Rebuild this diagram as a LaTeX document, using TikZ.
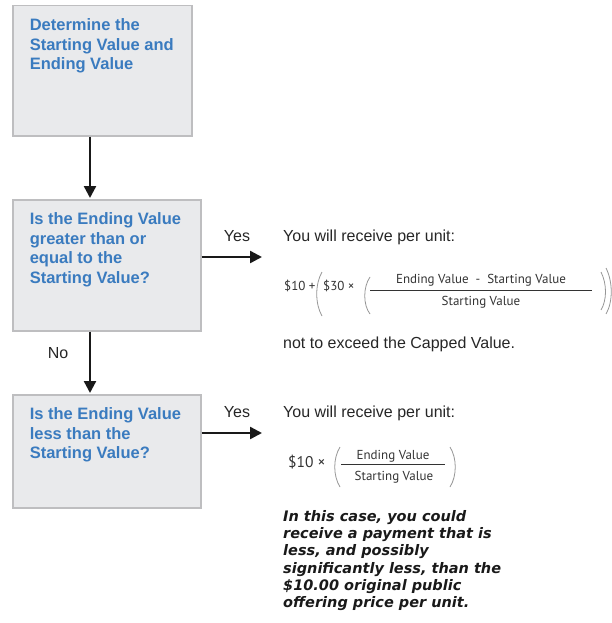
\documentclass[tikz,border=0pt]{standalone}
\usepackage{fontspec}
\setmainfont{Liberation Sans}
\newfontfamily\ptsans{PT Sans}
\newfontfamily\dejavu{DejaVu Sans}
\usetikzlibrary{arrows.meta}
\definecolor{boxfill}{RGB}{233,234,236}
\definecolor{boxline}{RGB}{190,190,192}
\definecolor{qblue}{RGB}{58,123,191}
\definecolor{parengray}{RGB}{150,150,150}
\tikzset{
	qbox/.style={draw=boxline, fill=boxfill, line width=1.5pt, anchor=north west, inner xsep=17pt, inner ysep=13pt, text=qblue, font=\fontsize{16.5}{19.5}\selectfont\bfseries},
	arr/.style={line width=2.4pt, draw=black!90, -{Triangle[length=12pt,width=12pt]}, shorten >=1pt},
	lbl/.style={font=\fontsize{16}{19}\selectfont, inner sep=0pt, text=black!85},
	frm/.style={font=\ptsans\fontsize{13}{15}\selectfont, inner sep=0pt, text=black!80},
	paren/.style={draw=parengray, line width=0.8pt},
}
\newcommand{\qtext}[3]{\parbox[t][#1][t]{#2}{\raggedright #3}}
\begin{document}
\begin{tikzpicture}[x=1pt,y=-1pt]
		\useasboundingbox (0,0) rectangle (611,623);
		\node[qbox] (start) at (12,5) {\qtext{104pt}{145pt}{Determine the\\Starting Value and\\Ending Value}};
		\node[qbox] (qgreater) at (12,199) {\qtext{105pt}{154pt}{Is the Ending Value\\greater than or\\equal to the\\Starting Value?}};
		\node[qbox] (qless) at (12,394) {\qtext{87pt}{154pt}{Is the Ending Value\\less than the\\Starting Value?}};
		\coordinate (ax) at (90,0);
		\coordinate (yesend1) at (263,257);
		\coordinate (yesend2) at (263,433);
		\draw[arr] (start.south -| ax) -- (qgreater.north -| ax);
		\draw[arr] (qgreater.south -| ax) -- (qless.north -| ax);
		\draw[arr] (yesend1 -| qgreater.east) -- (yesend1);
		\draw[arr] (yesend2 -| qless.east) -- (yesend2);
		\node[lbl, anchor=base] (yes1) at (237,241) {Yes};
		\node[lbl, anchor=base] (yes2) at (237,417) {Yes};
		\node[lbl, anchor=base] (no) at (58,358) {No};
		\node[lbl, anchor=base west] (receive1) at (283,241) {You will receive per unit:};
		\node[lbl, anchor=base west] (cap) at (283,348) {not to exceed the Capped Value.};
		\node[lbl, anchor=base west] (receive2) at (283,417) {You will receive per unit:};
		\node[frm, anchor=base west] (ten1) at (284,290) {\$10 +};
		\draw[paren] (322,272) .. controls (315,284) and (315,304) .. (322,316);
		\node[frm, anchor=base west] (thirty) at (323,290) {\$30 ×};
		\draw[paren] (370,277) .. controls (363,287) and (363,305) .. (370,314);
		\draw[black!80, line width=0.7pt] (370,290) -- (592,290);
		\node[frm, anchor=base] (num1) at (481,283) {Ending Value \ - \ Starting Value};
		\node[frm, anchor=base] (den1) at (481,305) {Starting Value};
		\draw[paren] (601,272) .. controls (607,284) and (607,300) .. (601,310);
		\draw[paren] (606,268) .. controls (613,282) and (613,302) .. (606,314);
		\node[frm, anchor=base west, font=\ptsans\fontsize{15.5}{17}\selectfont] (ten2) at (288,467) {\$10 ×};
		\draw[paren] (340,447) .. controls (333,458) and (333,476) .. (340,487);
		\draw[black!80, line width=0.7pt] (341,464) -- (445,464);
		\node[frm, anchor=base] (num2) at (393,459) {Ending Value};
		\node[frm, anchor=base] (den2) at (394,480) {Starting Value};
		\draw[paren] (450,447) .. controls (457,458) and (457,476) .. (450,487);
		\node[anchor=north west, inner sep=0pt, align=left, text=black!90, font=\dejavu\fontsize{14.5}{17.3}\selectfont\bfseries\itshape] (warning) at (283,510) {In this case, you could\\receive a payment that is\\less, and possibly\\significantly less, than the\\\$10.00 original public\\offering price per unit.};
	\end{tikzpicture}
\end{document}
